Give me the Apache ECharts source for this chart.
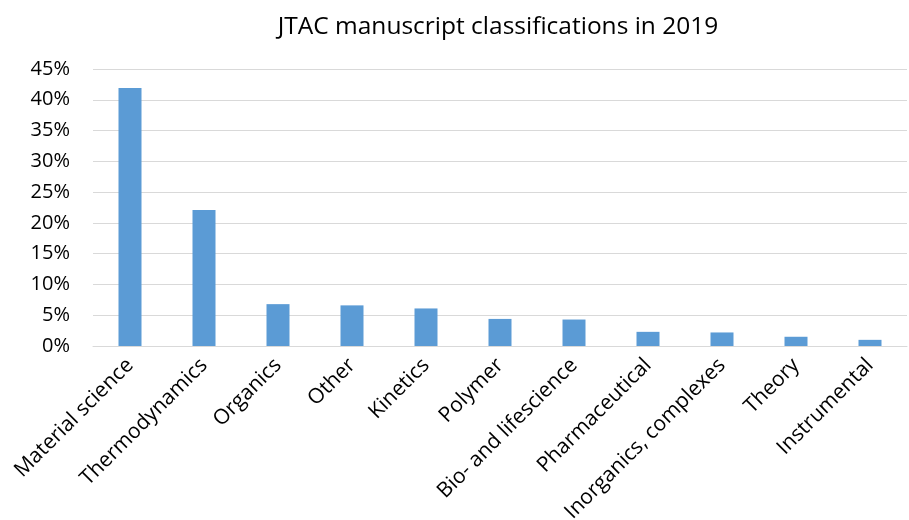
<!DOCTYPE html>
<html><head><meta charset="utf-8">
<script src="https://cdn.jsdelivr.net/npm/echarts@6/dist/echarts.min.js"></script>
<style>html,body{margin:0;padding:0;background:#fff}#c{width:909px;height:520px}</style>
</head><body><div id="c"></div>
<script>
const categories = ["Material science","Thermodynamics","Organics","Other","Kinetics","Polymer","Bio- and lifescience","Pharmaceutical","Inorganics, complexes","Theory","Instrumental"];
const values = [41.9, 22.1, 6.8, 6.6, 6.1, 4.4, 4.3, 2.3, 2.2, 1.5, 1.0];
const title = "JTAC manuscript classifications in 2019";
const chart = echarts.init(document.getElementById('c'));
const font = "'Open Sans', 'Noto Sans', sans-serif";
chart.setOption({
  animation: false,
  title: {text: title, left: 493, textAlign: 'center', top: 10, textStyle: {fontFamily: font, fontWeight: 'normal', fontSize: 24.5, color: '#000'}},
  grid: {left: 93, right: 2, top: 69, bottom: 174, containLabel: false, outerBoundsMode: 'none'},
  xAxis: {type: 'category', data: categories,
    axisLine: {lineStyle: {color: '#d9d9d9', width: 1}}, axisTick: {show: false},
    axisLabel: {rotate: 45, interval: 0, margin: 16, fontFamily: font, fontSize: 21, color: '#000'}},
  yAxis: {type: 'value', min: 0, max: 45, interval: 5,
    axisLabel: {formatter: '{value}%', fontFamily: font, fontSize: 20, color: '#000', margin: 23},
    splitLine: {lineStyle: {color: '#d9d9d9', width: 1}}, axisLine: {show: false}, axisTick: {show: false}},
  series: [{type: 'bar', data: values, barWidth: 23, itemStyle: {color: '#5b9bd5'}}]
});
</script></body></html>
